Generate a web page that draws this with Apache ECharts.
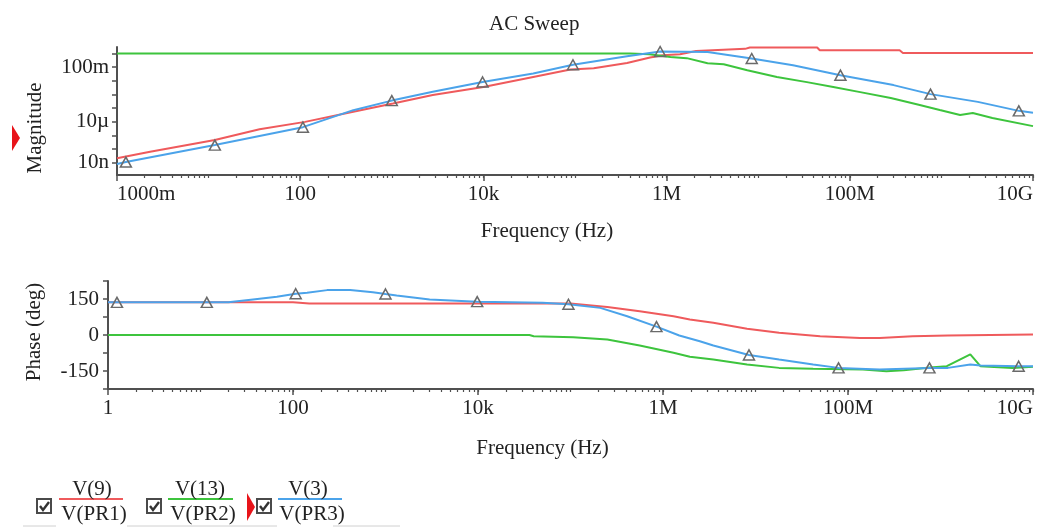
<!DOCTYPE html>
<html><head><meta charset="utf-8">
<script src="https://cdn.jsdelivr.net/npm/echarts@6/dist/echarts.min.js"></script>
<style>html,body{margin:0;padding:0;background:#fff}#c{width:1041px;height:529px}</style>
</head><body><div id="c"></div>
<script>
// ---- data: [frequency Hz, value] ----
const magV9 = [[1,2.2e-8],[2.3,6.6e-8],[11.7,4.7e-7],[36,2.9e-6],[113,1.0e-5],[380,5.5e-5],[1030,2.2e-4],[2800,9.1e-4],[1e4,3.6e-3],[3.5e4,1.95e-2],[8.9e4,6.8e-2],[1.6e5,8.5e-2],[3.7e5,0.2],[6.6e5,0.51],[9.1e5,0.75],[1.4e6,0.89],[2.1e6,1.55],[7.2e6,2.2],[8.1e6,2.75],[4.4e7,2.75],[4.7e7,1.74],[3.5e8,1.74],[3.8e8,1.1],[1e10,1.1]];
const magV13 = [[1,1.0],[4e5,1.0],[6.5e5,0.9],[1.1e6,0.56],[1.66e6,0.46],[2.8e6,0.195],[4.2e6,0.165],[7.6e6,0.06],[1.6e7,0.019],[3.4e7,8.1e-3],[6.6e7,3.5e-3],[1.3e8,1.5e-3],[2.8e8,5.5e-4],[5.8e8,1.7e-4],[9.6e8,7.3e-5],[1.6e9,3.2e-5],[2.2e9,4.4e-5],[3.6e9,1.9e-5],[1e10,4.9e-6]];
const magV3 = [[1,8.3e-9],[1.25,1.15e-8],[11.7,2.0e-7],[107,4.1e-6],[380,7.2e-5],[1000,3.6e-4],[2800,1.6e-3],[9800,8.3e-3],[3.5e4,3.5e-2],[9.5e4,0.15],[3.7e5,0.63],[8.5e5,1.4],[2.8e6,1.3],[8.5e6,0.43],[2.4e7,0.14],[7.9e7,2.6e-2],[3e8,4.9e-3],[7.6e8,1.07e-3],[2.5e9,2.9e-4],[7e9,6.4e-5],[1e10,4.6e-5]];
const phV9 = [[1,136],[100,136],[150,131],[1e5,131],[2.5e5,117],[5.6e5,99],[1.3e6,78],[1.95e6,65],[3.5e6,51],[8.1e6,26],[1.8e7,9],[5e7,-5],[1.35e8,-12],[2.2e8,-12],[5e8,-5],[1.2e9,-2],[1e10,2]];
const phV13 = [[1,0],[3.6e4,0],[4e4,-5],[1.07e5,-9],[2.5e5,-19],[5.6e5,-44],[1.3e6,-74],[1.95e6,-91],[3.5e6,-102],[8.1e6,-123],[1.8e7,-137],[4.2e7,-141],[1.45e8,-144],[2.6e8,-151],[4e8,-147],[7.7e8,-135],[1.17e9,-130],[2.1e9,-81],[2.7e9,-130],[6e9,-137],[1e10,-132]];
const phV3 = [[1,136],[1.25,136],[11.7,136],[20,136],[37,148],[67,159],[107,172],[142,176],[234,187],[415,187],[730,178],[1000,171],[1320,165],[3000,148],[9800,139],[5e4,134],[9.5e4,128],[2.1e5,113],[4.1e5,78],[8.5e5,35],[1.5e6,-2],[2.5e6,-26],[3.5e6,-44],[8.5e6,-83],[1.8e7,-102],[4.2e7,-123],[7.9e7,-137],[2.2e8,-144],[7.6e8,-137],[1.2e9,-137],[2.1e9,-123],[2.7e9,-127],[7e9,-130],[1e10,-130]];
const markFreqs = [1.25, 11.7, 107, 1000, 9800, 9.5e4, 8.5e5, 8.5e6, 7.9e7, 7.6e8, 7e9];

// ---- tick labels ----
const freqTickVals = [1, 1e2, 1e4, 1e6, 1e8, 1e10];
const topFreqLabels = ['1000m', '100', '10k', '1M', '100M', '10G'];
const botFreqLabels = ['1', '100', '10k', '1M', '100M', '10G'];
const magTickLabels = { '-1': '100m', '-5': '10\u00b5', '-8': '10n' };
const phaseLabelVals = [150, 0, -150];

const RED = '#ef5a5c', GREEN = '#3dc43d', BLUE = '#4ba3ea';
const FONT = 'Liberation Serif';
const TXT = '#222';
const AX = '#505050';

function lg(v){ return Math.round(Math.log10(v)); }
// minor tick positions (decade exponents of 2..10 x 10^e) for helper tick axes
const minorExp = [];
for (let e = 0; e < 10; e++) for (let m = 2; m <= 10; m++) minorExp.push(e + Math.log10(m));

function withMarks(arr){
  return arr.map(p => markFreqs.indexOf(p[0]) >= 0
    ? { value: p, symbol: 'triangle', symbolSize: [11, 10] }
    : { value: p, symbol: 'none' });
}

const labelStyle = { fontFamily: FONT, fontSize: 21, color: TXT };

function freqAxis(grid, labels){
  return { type: 'log', logBase: 10, gridIndex: grid, min: 1, max: 1e10, position: 'bottom',
    name: 'Frequency (Hz)', nameLocation: 'middle', nameGap: grid === 0 ? 46 : 49,
    nameTextStyle: Object.assign({ padding: [0, 56, 0, 0] }, labelStyle),
    axisLine: { show: true, onZero: false, lineStyle: { color: AX, width: 2 } },
    axisTick: { show: true, customValues: freqTickVals, length: 6, lineStyle: { color: AX, width: 1.5 } },
    axisLabel: Object.assign({ customValues: freqTickVals, margin: 9,
      alignMinLabel: grid === 0 ? 'left' : 'center', alignMaxLabel: 'right',
      formatter: v => labels[freqTickVals.findIndex(t => lg(t) === lg(v))] || '' }, labelStyle),
    splitLine: { show: false } };
}
function minorAxis(grid){
  return { type: 'value', gridIndex: grid, min: 0, max: 10, position: 'bottom',
    axisLine: { show: false, onZero: false },
    axisTick: { show: true, customValues: minorExp, length: 3, lineStyle: { color: AX, width: 1.2 } },
    axisLabel: { show: false }, splitLine: { show: false } };
}

const option = {
  animation: false,
  backgroundColor: '#fff',
  title: { text: 'AC Sweep', left: 484, top: 9, textStyle: { fontFamily: FONT, fontSize: 21, fontWeight: 'normal', color: TXT } },
  grid: [
    { left: 117, right: 8, top: 47, height: 128 },
    { left: 108, right: 8, top: 281, height: 108 }
  ],
  xAxis: [ freqAxis(0, topFreqLabels), minorAxis(0), freqAxis(1, botFreqLabels), minorAxis(1) ],
  yAxis: [
    { type: 'log', logBase: 10, gridIndex: 0, min: 1.3e-9, max: 3,
      name: 'Magnitude', nameLocation: 'middle', nameGap: 71,
      nameTextStyle: Object.assign({ padding: [0, 34, 0, 0] }, labelStyle),
      axisLine: { show: true, lineStyle: { color: AX, width: 2 } },
      axisTick: { show: true, length: 5, lineStyle: { color: AX, width: 1.5 } },
      axisLabel: Object.assign({ margin: 8, showMinLabel: false, showMaxLabel: false,
        formatter: v => magTickLabels[String(lg(v))] || '' }, labelStyle),
      splitLine: { show: false } },
    { type: 'value', gridIndex: 1, min: -225, max: 225, interval: 75,
      name: 'Phase (deg)', nameLocation: 'middle', nameGap: 63,
      nameTextStyle: Object.assign({ padding: [0, 0, 0, 6] }, labelStyle),
      axisLine: { show: true, onZero: false, lineStyle: { color: AX, width: 2 } },
      axisTick: { show: true, length: 5, lineStyle: { color: AX, width: 1.5 } },
      axisLabel: Object.assign({ customValues: phaseLabelVals, margin: 9 }, labelStyle),
      splitLine: { show: false } }
  ],
  series: [
    { name: 'V(9)/V(PR1)', type: 'line', xAxisIndex: 0, yAxisIndex: 0, data: magV9, symbol: 'none', lineStyle: { color: RED, width: 2 }, itemStyle: { color: RED } },
    { name: 'V(13)/V(PR2)', type: 'line', xAxisIndex: 0, yAxisIndex: 0, data: magV13, symbol: 'none', lineStyle: { color: GREEN, width: 2 }, itemStyle: { color: GREEN } },
    { name: 'V(3)/V(PR3)', type: 'line', xAxisIndex: 0, yAxisIndex: 0, data: withMarks(magV3), symbol: 'triangle', showAllSymbol: true,
      lineStyle: { color: BLUE, width: 2 }, itemStyle: { color: 'rgba(255,255,255,0)', borderColor: '#6a6a6a', borderWidth: 1.5 } },
    { name: 'V(9)/V(PR1)', type: 'line', xAxisIndex: 2, yAxisIndex: 1, data: phV9, symbol: 'none', lineStyle: { color: RED, width: 2 }, itemStyle: { color: RED } },
    { name: 'V(13)/V(PR2)', type: 'line', xAxisIndex: 2, yAxisIndex: 1, data: phV13, symbol: 'none', lineStyle: { color: GREEN, width: 2 }, itemStyle: { color: GREEN } },
    { name: 'V(3)/V(PR3)', type: 'line', xAxisIndex: 2, yAxisIndex: 1, data: withMarks(phV3), symbol: 'triangle', showAllSymbol: true,
      lineStyle: { color: BLUE, width: 2 }, itemStyle: { color: 'rgba(255,255,255,0)', borderColor: '#6a6a6a', borderWidth: 1.5 } }
  ],
  graphic: []
};

// ---- legend drawn as graphics ----
const legendItems = [
  { top: 'V(9)', bot: 'V(PR1)', color: RED, box: 37, lineX: [59, 123], topX: 92, botX: 94 },
  { top: 'V(13)', bot: 'V(PR2)', color: GREEN, box: 147, lineX: [168, 233], topX: 200, botX: 203 },
  { top: 'V(3)', bot: 'V(PR3)', color: BLUE, box: 257, lineX: [278, 342], topX: 308, botX: 312 }
];
const g = option.graphic;
g.push({ type: 'polygon', shape: { points: [[12, 125], [20, 138], [12, 151]] }, style: { fill: '#e8141a' } });
g.push({ type: 'polygon', shape: { points: [[247, 493], [255, 507], [247, 521]] }, style: { fill: '#e8141a' } });
legendItems.forEach(it => {
  g.push({ type: 'rect', shape: { x: it.box, y: 499, width: 14, height: 14 }, style: { fill: '#fff', stroke: '#4a4a4a', lineWidth: 2 } });
  g.push({ type: 'polyline', shape: { points: [[it.box + 3, 506], [it.box + 6, 510], [it.box + 12, 502]] }, style: { stroke: '#333', lineWidth: 2.4, fill: null } });
  g.push({ type: 'line', shape: { x1: it.lineX[0], y1: 499, x2: it.lineX[1], y2: 499 }, style: { stroke: it.color, lineWidth: 2 } });
  g.push({ type: 'text', style: { text: it.top, x: it.topX, y: 489, textAlign: 'center', textVerticalAlign: 'middle', font: '21px "Liberation Serif"', fill: TXT } });
  g.push({ type: 'text', style: { text: it.bot, x: it.botX, y: 514, textAlign: 'center', textVerticalAlign: 'middle', font: '21px "Liberation Serif"', fill: TXT } });
});
[[23, 56], [127, 277], [333, 400]].forEach(s => g.push({ type: 'line', shape: { x1: s[0], y1: 526, x2: s[1], y2: 526 }, style: { stroke: '#d0d0d0', lineWidth: 1 } }));

const chart = echarts.init(document.getElementById('c'), null, { renderer: 'canvas' });
chart.setOption(option);
</script></body></html>
